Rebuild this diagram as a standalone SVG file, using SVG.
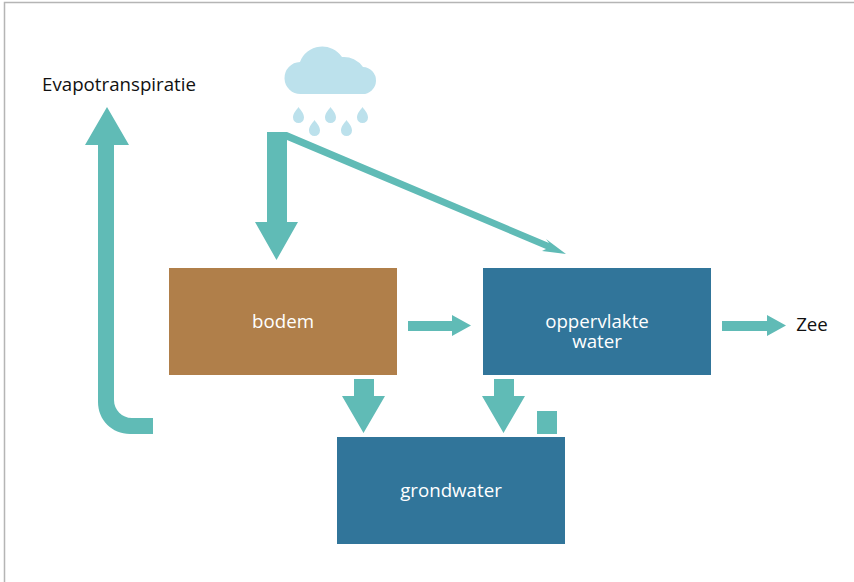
<svg xmlns="http://www.w3.org/2000/svg" width="854" height="582" viewBox="0 0 854 582">
<style>
.a{fill:#60BBB6}
.b{fill:#31759A}
.d{fill:#BCE1EC}
text{font-family:"Open Sans","Noto Sans",sans-serif;font-size:18.7px;text-anchor:middle}
.w{fill:#fff}
.k{fill:#111}
</style>
<rect width="854" height="582" fill="#fff"/>
<path d="M4.500 582V2.500H854" fill="none" stroke="#b5b5b5" stroke-width="1.500"/>
<g id="cloud">
<path class="d" d="M301 94A16 16 0 0 1 300 62A23.800 23.800 0 0 1 342 57A23 23 0 0 1 363 67A13.500 13.500 0 0 1 362 94Z"/>
<path class="d" d="M298.500 107C300.500 110 304 113 304 117.500A5.500 5.500 0 0 1 293 117.500C293 113 296.500 110 298.500 107Z"/>
<path class="d" d="M314.500 120C316.500 123 320 126 320 130.500A5.500 5.500 0 0 1 309 130.500C309 126 312.500 123 314.500 120Z"/>
<path class="d" d="M330.500 107C332.500 110 336 113 336 117.500A5.500 5.500 0 0 1 325 117.500C325 113 328.500 110 330.500 107Z"/>
<path class="d" d="M346.500 120C348.500 123 352 126 352 130.500A5.500 5.500 0 0 1 341 130.500C341 126 344.500 123 346.500 120Z"/>
<path class="d" d="M362.500 107C364.500 110 368 113 368 117.500A5.500 5.500 0 0 1 357 117.500C357 113 360.500 110 362.500 107Z"/>
</g>
<g id="connectors">
<path class="a" d="M267 132H287V222H298L276.500 260L255 222H267Z"/>
<path class="a" d="M287 132L549 243L546 239L566 254L542 251L546 249L287 140Z"/>
<path class="a" d="M107 107L129 145H114V400C114 410 122 418 132 418H153V434H130C112 434 98 420 98 402V145H85Z"/>
<path class="a" d="M354 379H374V396H385L363.500 433L342 396H354Z"/>
<path class="a" d="M494 379H514V396H525L503.500 433L482 396H494Z"/>
<rect class="a" x="537" y="411" width="20" height="23"/>
<path class="a" d="M408 321H452V315L471 325.500L452 336V331H408Z"/>
<path class="a" d="M722 321H767V315L786 325.500L767 336V331H722Z"/>
</g>
<g id="bodem"><rect x="169" y="268" width="228" height="107" fill="#B07F4A"/><text class="w" x="283" y="328">bodem</text></g>
<g id="oppervlakte"><rect class="b" x="483" y="268" width="228" height="107"/><text class="w"><tspan x="597" y="328">oppervlakte</tspan><tspan x="597" y="347.500">water</tspan></text></g>
<g id="grondwater"><rect class="b" x="337" y="437" width="228" height="107"/><text class="w" x="451" y="497">grondwater</text></g>
<g id="evapotranspiratie"><text class="k" x="119" y="91">Evapotranspiratie</text></g>
<g id="zee"><text class="k" x="812" y="331">Zee</text></g>
</svg>
